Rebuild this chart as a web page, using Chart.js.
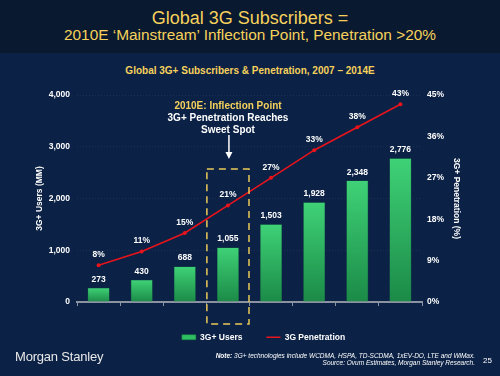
<!DOCTYPE html>
<html>
<head>
<meta charset="utf-8">
<script src="https://cdn.jsdelivr.net/npm/chart.js@4"></script>
<style>
  body { margin: 0; width: 500px; height: 376px; background: #0b2145; position: relative; overflow: hidden; font-family: "Liberation Sans", Arial, sans-serif; }
  #hdr { position: absolute; left: 0; top: 0; width: 500px; height: 53px; background: #09192f; }
  .t { position: absolute; left: 0; width: 500px; text-align: center; color: #f6d15c; white-space: nowrap; }
  #c { position: absolute; left: 0; top: 0; }
  #note { position: absolute; right: 25px; top: 352px; color: #fff; font-size: 6.5px; font-style: italic; text-align: right; line-height: 7px; }
  #ms { position: absolute; left: 15px; top: 349px; color: #e8e8e8; font-size: 13px; letter-spacing: -0.2px; }
  #pg { position: absolute; left: 483px; top: 356px; color: #fff; font-size: 8px; }
  #ann { position: absolute; left: 128px; width: 200px; top: 99.5px; text-align: center; font-size: 10px; font-weight: bold; line-height: 12px; color: #fff; }
</style>
</head>
<body>
<div id="hdr"></div>
<div class="t" style="top:8.8px;font-size:18px;line-height:18px">Global 3G Subscribers =</div>
<div class="t" style="top:27px;font-size:15.4px;line-height:15.4px">2010E ‘Mainstream’ Inflection Point, Penetration &gt;20%</div>
<div class="t" style="top:65.5px;font-size:10px;line-height:10px;font-weight:bold">Global 3G+ Subscribers &amp; Penetration, 2007 – 2014E</div>
<canvas id="c" width="500" height="376"></canvas>
<div id="ann"><span style="color:#f6d15c">2010E: Inflection Point</span><br>3G+ Penetration Reaches<br>Sweet Spot</div>
<div id="ms">Morgan Stanley</div>
<div id="note"><b>Note:</b> 3G+ technologies include WCDMA, HSPA, TD-SCDMA, 1xEV-DO, LTE and WiMax.<br>Source: Ovum Estimates, Morgan Stanley Research.</div>
<div id="pg">25</div>
<script>
const years = ["2007", "2008", "2009E", "2010E", "2011E", "2012E", "2013E", "2014E"];
const users = [273, 430, 688, 1055, 1503, 1928, 2348, 2776];
const penetration = [8, 11, 15, 21, 27, 33, 38, 43];
const highlightIndex = 3;

const tickFont = { family: "Liberation Sans", size: 8.5, weight: "bold" };

function barFill(ctx) {
  const chart = ctx.chart;
  const area = chart.chartArea;
  if (!area || ctx.raw == null) return "#2fbf63";
  const top = chart.scales.y.getPixelForValue(ctx.raw);
  const g = chart.ctx.createLinearGradient(0, top, 0, area.bottom);
  g.addColorStop(0, "#3fd277");
  g.addColorStop(1, "#1b8a47");
  return g;
}

const valueLabels = {
  id: "valueLabels",
  afterDatasetsDraw(chart) {
    const c = chart.ctx;
    c.save();
    c.fillStyle = "#fff";
    c.font = "bold 8.5px 'Liberation Sans'";
    c.textAlign = "center";
    c.textBaseline = "bottom";
    // dataset 0 = bars, dataset 1 = line
    chart.getDatasetMeta(0).data.forEach((bar, i) => {
      c.fillText(users[i].toLocaleString("en-US"), bar.x, bar.y - 4);
    });
    chart.getDatasetMeta(1).data.forEach((pt, i) => {
      c.fillText(penetration[i] + "%", pt.x, pt.y - 6);
    });
    c.restore();
  },
  afterDraw(chart) {
    const c = chart.ctx;
    const xs = chart.scales.x;
    const cx = xs.getPixelForValue(highlightIndex);
    const half = (xs.getPixelForValue(1) - xs.getPixelForValue(0)) / 2 - 0.5;
    const top = chart.scales.y.getPixelForValue(2570);
    const bottom = chart.chartArea.bottom + 22;
    c.save();
    c.strokeStyle = "#ecc95a";
    c.lineWidth = 1.5;
    c.setLineDash([7, 5]);
    c.strokeRect(cx - half, top, half * 2, bottom - top);
    c.setLineDash([]);
    // arrow
    c.strokeStyle = "#fff";
    c.fillStyle = "#fff";
    c.lineWidth = 1.5;
    c.beginPath();
    c.moveTo(cx + 1, 135);
    c.lineTo(cx + 1, 153);
    c.stroke();
    c.beginPath();
    c.moveTo(cx - 2.5, 152);
    c.lineTo(cx + 4.5, 152);
    c.lineTo(cx + 1, 159);
    c.closePath();
    c.fill();
    c.restore();
  }
};

new Chart(document.getElementById("c"), {
  type: "bar",
  data: {
    labels: years,
    datasets: [
      {
        label: "3G+ Users",
        data: users,
        yAxisID: "y",
        backgroundColor: barFill,
        borderColor: "#1d7f44",
        borderWidth: 0.5,
        categoryPercentage: 1,
        barPercentage: 0.51,
        order: 1
      },
      {
        type: "line",
        label: "3G Penetration",
        data: penetration,
        yAxisID: "y1",
        borderColor: "#e8141c",
        backgroundColor: "#e8141c",
        borderWidth: 1.6,
        pointRadius: 2,
        pointBackgroundColor: "#e8141c",
        pointBorderWidth: 0,
        tension: 0,
        order: 0
      }
    ]
  },
  options: {
    responsive: false,
    animation: false,
    layout: { padding: { top: 95, left: 27, right: 0, bottom: 24.5 } },
    plugins: {
      tooltip: { enabled: false },
      legend: {
        position: "bottom",
        labels: {
          color: "#fff",
          font: { family: "Liberation Sans", size: 8.5, weight: "bold" },
          usePointStyle: true,
          pointStyleWidth: 14,
          boxHeight: 5,
          padding: 24,
          generateLabels: () => [
            { text: "3G+ Users", fillStyle: "#2fbf63", strokeStyle: "#1d7f44", lineWidth: 0.5, pointStyle: "rect", fontColor: "#fff", hidden: false, datasetIndex: 0 },
            { text: "3G Penetration", fillStyle: "#e8141c", strokeStyle: "#e8141c", lineWidth: 1.5, pointStyle: "line", fontColor: "#fff", hidden: false, datasetIndex: 1 }
          ]
        }
      }
    },
    scales: {
      x: {
        afterFit: (s) => { s.height = 7; },
        grid: { display: true, drawOnChartArea: false, drawTicks: true, tickLength: 4, color: "#8b93a1", offset: true },
        border: { display: true, color: "#8b93a1", width: 2 },
        ticks: { color: "#fff", font: tickFont, padding: 4, maxRotation: 0 }
      },
      y: {
        position: "left",
        min: 0,
        max: 4000,
        afterFit: (s) => { s.width = 50; },
        grid: { color: "rgba(255,255,255,0.07)", drawTicks: false },
        border: { display: false, dash: [1, 2] },
        ticks: { stepSize: 1000, color: "#fff", font: tickFont, padding: 7, callback: (v) => v.toLocaleString("en-US") },
        title: { display: true, text: "3G+ Users (MM)", color: "#fff", font: tickFont, padding: { top: 8, bottom: 0 } }
      },
      y1: {
        position: "right",
        min: 0,
        max: 45,
        afterFit: (s) => { s.width = 78; },
        grid: { display: false, drawTicks: false },
        border: { display: false },
        ticks: { stepSize: 9, color: "#fff", font: tickFont, padding: 5, callback: (v) => v + "%" },
        title: { display: true, text: "3G+ Penetration (%)", color: "#fff", font: tickFont, padding: { top: 39, bottom: 0 } }
      }
    }
  },
  plugins: [valueLabels]
});
</script>
</body>
</html>
